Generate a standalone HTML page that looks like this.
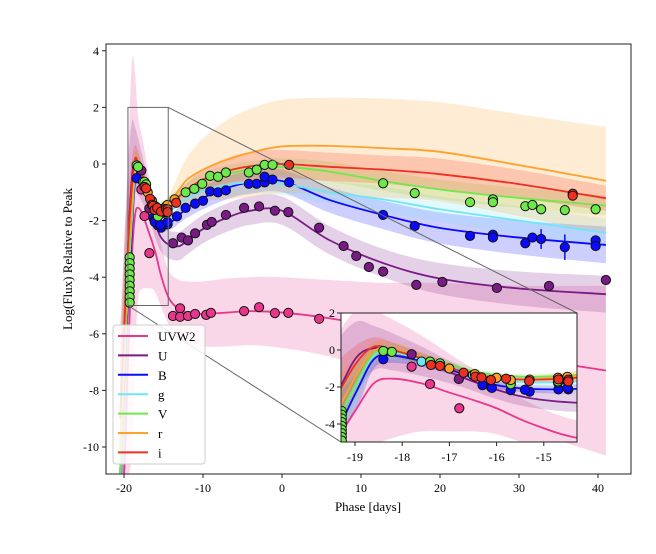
<!DOCTYPE html>
<html><head><meta charset="utf-8">
<style>
html,body{margin:0;padding:0;background:#fff;width:656px;height:554px;overflow:hidden;}
svg{display:block;font-family:"Liberation Serif",serif;}
</style></head>
<body>
<svg id="chart" width="656" height="554" viewBox="0 0 656 554" xmlns="http://www.w3.org/2000/svg">
<defs>
<clipPath id="clipMain"><rect x="106" y="44" width="525" height="430"/></clipPath>
<clipPath id="clipInset"><rect x="341" y="313" width="236" height="129"/></clipPath>
</defs>
<rect x="0" y="0" width="656" height="554" fill="#fff"/>
<g id="mainBands" clip-path="url(#clipMain)"></g>
<g id="zoomBox"></g>
<rect x="106" y="44" width="525" height="430" fill="none" stroke="#222" stroke-width="1"/>
<g id="mainAxes"></g>
<text x="368" y="511" font-size="13" text-anchor="middle">Phase [days]</text>
<text transform="translate(72,259) rotate(-90)" font-size="13" text-anchor="middle">Log(Flux) Relative to Peak</text>
<g id="legend"></g>
<rect x="341" y="313" width="236" height="129" fill="#fff"/>
<g id="insetPlot" clip-path="url(#clipInset)"></g>
<rect x="341" y="313" width="236" height="129" fill="none" stroke="#222" stroke-width="1"/>
<g id="insetAxes"></g>
</svg>
<script>
// ---- data ----
const bandNames = ["UVW2","U","B","g","V","r","i"];
const bandColors = ["#e8368c","#7a1a86","#0a0aff","#70e6f5","#6ee84a","#ffa12a","#ee3020"];
const knotPhases = [-20.5,-20,-19.5,-19,-18.6,-18.2,-17.6,-17,-16.5,-16,-15.3,-14.3,-13,-12,-10,-7,-4,0,6,12.8,20,30,41];
const curveUVW2 = [-14,-11,-7,-3.3,-1.8,-1.55,-1.8,-2.3,-2.7,-3.15,-3.95,-4.75,-5.15,-5.25,-5.3,-5.25,-5.2,-5.25,-5.45,-5.8,-6.2,-6.8,-7.3];
const curveU = [-11,-7,-3,-0.5,0.1,-0.1,-0.6,-1.2,-1.7,-2.15,-2.6,-2.85,-2.9,-2.7,-2.3,-1.9,-1.65,-1.65,-2.69,-3.5,-4.05,-4.4,-4.6];
const curveB = [-11,-8,-4.8,-2.4,-0.5,-0.3,-0.6,-1.05,-1.5,-1.9,-2.1,-2.1,-1.8,-1.55,-1.2,-0.85,-0.65,-0.6,-1.27,-1.8,-2.26,-2.6,-2.86];
const curveG = [-11,-7.5,-4.3,-2.0,-0.3,-0.15,-0.5,-0.9,-1.3,-1.6,-1.75,-1.7,-1.4,-1.2,-0.95,-0.75,-0.65,-0.7,-1.0,-1.25,-1.6,-2.0,-2.43];
const curveV = [-11,-7.5,-4.3,-1.9,-0.2,-0.05,-0.45,-0.8,-1.15,-1.35,-1.45,-1.35,-1.1,-0.9,-0.6,-0.35,-0.2,-0.1,-0.27,-0.6,-0.9,-1.2,-1.47];
const curveR = [-10,-7,-3.8,-1.5,-0.05,0.05,-0.4,-0.95,-1.3,-1.5,-1.6,-1.4,-0.9,-0.55,-0.2,0.15,0.4,0.62,0.64,0.56,0.43,-0.04,-0.59];
const curveI = [-9,-6,-3,-0.8,0.18,0.0,-0.45,-0.95,-1.3,-1.5,-1.6,-1.5,-1.15,-0.9,-0.55,-0.25,-0.08,0,-0.1,-0.2,-0.36,-0.71,-1.21];
const sigUVW2 = [6,6.5,7,6.9,5,3.2,2.6,2.1,1.7,1.4,1.1,0.95,1.05,1.1,1.15,1.2,1.2,1.25,1.35,1.6,2,2.5,3];
const sigU = [4,4,3,2,1.2,1,0.8,0.6,0.5,0.5,0.5,0.5,0.5,0.5,0.5,0.5,0.5,0.5,0.5,0.5,0.55,0.6,0.65];
const sigB = [3,3,2,1,0.5,0.4,0.3,0.25,0.2,0.2,0.2,0.25,0.3,0.35,0.4,0.4,0.4,0.4,0.45,0.5,0.55,0.6,0.65];
const sigG = [3,3,2,1,0.5,0.4,0.3,0.25,0.2,0.2,0.2,0.25,0.3,0.35,0.4,0.4,0.4,0.4,0.4,0.45,0.45,0.5,0.5];
const sigV = [3,3,2,1,0.5,0.4,0.3,0.25,0.2,0.15,0.15,0.2,0.25,0.25,0.3,0.3,0.3,0.3,0.35,0.35,0.35,0.35,0.35];
const sigR = [3,3,2,1,0.5,0.4,0.3,0.25,0.2,0.2,0.2,0.3,0.6,0.8,1.1,1.4,1.55,1.65,1.7,1.75,1.75,1.8,1.9];
const sigI = [3,3,2,1,0.5,0.4,0.3,0.25,0.2,0.15,0.15,0.15,0.2,0.25,0.35,0.45,0.5,0.5,0.5,0.5,0.55,0.5,0.45];
const ptsUVW2 = [[-17.8,-0.9],[-17.41,-1.84],[-16.79,-3.15],[-13.8,-5.37],[-12.9,-5.1],[-12.9,-5.4],[-11.9,-5.37],[-11,-5.3],[-9.6,-5.33],[-9,-5.26],[-4.8,-5.2],[-2.9,-5.06],[-0.9,-5.27],[0.8,-5.26],[4.7,-5.47]];
const ptsU = [[-17.8,-0.23],[-16.8,-1.57],[-13.8,-2.8],[-12.7,-2.6],[-11.9,-2.7],[-11,-2.45],[-9.5,-2.15],[-8.9,-2.05],[-7.1,-1.8],[-4.8,-1.55],[-2.9,-1.5],[-0.9,-1.65],[0.8,-1.7],[4.7,-2.25],[7.8,-2.9],[9.4,-3.25],[11,-3.64],[12.8,-3.8],[17,-4.27],[20.3,-4.17],[27.2,-4.38],[33.8,-4.31],[41,-4.1]];
const ptsB = [[-18.4,-0.5],[-16.3,-1.9],[-16.12,-2.0],[-15.7,-2.17],[-15.3,-2.25],[-14.69,-2.13],[-14.48,-2.13],[-16.1,-2.05],[-15.4,-2.15],[-14.5,-2.05],[-13.3,-1.85],[-12.2,-1.55],[-11,-1.4],[-10,-1.3],[-9.1,-0.97],[-8.1,-1.0],[-7.1,-0.93],[-4.2,-0.7],[-3.2,-0.7],[-2.2,-0.65],[-2.2,-0.45],[-1.2,-0.55],[0.9,-0.65],[12.8,-1.8],[16.8,-2.19],[23.8,-2.54],[26.7,-2.5],[26.7,-2.6],[30.8,-2.8],[31.7,-2.6],[32.8,-2.65],[35.8,-2.94],[39.7,-2.7],[39.7,-2.9]];
const errB = [0,0,0,0,0,0,0,0,0,0,0,0,0,0,0,0,0,0,0,0,0,0,0,0,0,0,0,0,0,0,0.35,0.45,0,0];
const ptsG = [[-17.59,-0.63],[-16.5,-1.35],[-15.7,-1.8],[-14.7,-1.75],[-14.5,-1.7]];
const ptsV = [[-19.28,-3.3],[-19.28,-3.5],[-19.28,-3.7],[-19.28,-3.9],[-19.28,-4.1],[-19.28,-4.3],[-19.28,-4.5],[-19.28,-4.7],[-19.28,-4.9],[-18.4,-0.05],[-18.22,-0.1],[-17.41,-0.63],[-17.2,-0.72],[-15.7,-1.85],[-14.7,-1.7],[-12.2,-1.0],[-11.1,-0.88],[-10.1,-0.7],[-9.1,-0.42],[-8.1,-0.45],[-7.1,-0.3],[-4.2,-0.3],[-3.2,-0.2],[-2.2,-0.03],[-1.2,-0.03],[12.8,-0.68],[16.8,-1.03],[23.8,-1.35],[26.7,-1.25],[26.7,-1.35],[30.8,-1.49],[31.7,-1.45],[32.8,-1.6],[35.8,-1.63],[39.7,-1.6]];
const ptsR = [[-17.0,-1.0],[-16.46,-1.3],[-16.0,-1.5],[-15.7,-1.62],[-15.3,-1.6],[-14.7,-1.5],[-14.5,-1.45],[-13.6,-1.25]];
const ptsI = [[-17.39,-0.81],[-17.2,-0.86],[-16.7,-1.23],[-16.45,-1.44],[-16.32,-1.48],[-16.12,-1.62],[-15.8,-1.55],[-15.31,-1.68],[-14.69,-1.59],[-14.48,-1.6],[-14.48,-1.7],[-13.4,-1.37],[0.9,-0.03],[36.8,-1.05],[36.8,-1.12]];
const mainXTicks = [-20,-10,0,10,20,30,40];
const mainYTicks = [4,2,0,-2,-4,-6,-8,-10];
const insetXTicks = [-19,-18,-17,-16,-15];
const insetYTicks = [2,0,-2,-4];

const curves = [curveUVW2,curveU,curveB,curveG,curveV,curveR,curveI];
const sigmas = [sigUVW2,sigU,sigB,sigG,sigV,sigR,sigI];
const points = [ptsUVW2,ptsU,ptsB,ptsG,ptsV,ptsR,ptsI];

// ---- scales ----
const xM = p => 282 + 7.9*p;
const yM = v => 164 - 28.3*v;
const xI = p => 355 + 47.2*(p+19);
const yI = v => 350 - 18.5*v;
const NS = "http://www.w3.org/2000/svg";
function mk(tag, attrs, parent){const e=document.createElementNS(NS,tag);for(const k in attrs)e.setAttribute(k,attrs[k]);if(parent)parent.appendChild(e);return e;}
function spline(pts){
  let d="M"+pts[0][0].toFixed(2)+","+pts[0][1].toFixed(2);
  for(let i=0;i<pts.length-1;i++){
    const p0=pts[Math.max(0,i-1)],p1=pts[i],p2=pts[i+1],p3=pts[Math.min(pts.length-1,i+2)];
    const c1=[p1[0]+(p2[0]-p0[0])/6,p1[1]+(p2[1]-p0[1])/6];
    const c2=[p2[0]-(p3[0]-p1[0])/6,p2[1]-(p3[1]-p1[1])/6];
    d+="C"+c1[0].toFixed(2)+","+c1[1].toFixed(2)+" "+c2[0].toFixed(2)+","+c2[1].toFixed(2)+" "+p2[0].toFixed(2)+","+p2[1].toFixed(2);
  }
  return d;
}
function splineCont(pts){ return spline(pts).replace(/^M/,"L"); }

function drawPanel(g, X, Yraw, r, yLo, yHi){
  const Y = v => Math.max(yLo, Math.min(yHi, Yraw(v)));
  curves.forEach((c,b)=>{
    const up=knotPhases.map((p,i)=>[X(p),Y(c[i]+sigmas[b][i])]);
    const lo=knotPhases.map((p,i)=>[X(p),Y(c[i]-sigmas[b][i])]).reverse();
    const band=mk("path",{d:spline(up)+splineCont(lo)+"Z",fill:bandColors[b],"fill-opacity":"0.2",stroke:"none"},g);
    
    
  });
  curves.forEach((c,b)=>{
    const ln=mk("path",{d:spline(knotPhases.map((p,i)=>[X(p),Y(c[i])])),fill:"none",stroke:bandColors[b],"stroke-width":"1.8"},g);
    
    
  });
  points.forEach((arr,b)=>{
    arr.forEach((pt,k)=>{
      if(b===2 && errB[k]>0){
        const eb=mk("line",{x1:X(pt[0]),x2:X(pt[0]),y1:Y(pt[1]+errB[k]),y2:Y(pt[1]-errB[k]),stroke:bandColors[b],"stroke-width":"1.5"},g);
        
        
      }
      const c=mk("circle",{cx:X(pt[0]),cy:Y(pt[1]),r:r,fill:bandColors[b],stroke:"#111","stroke-width":"1"},g);
      
      
    });
  });
}
drawPanel(document.getElementById("mainBands"), xM, yM, 4.6, 42, 476);
drawPanel(document.getElementById("insetPlot"), xI, yI, 4.6, 311, 444);

// zoom indicator
const zb=document.getElementById("zoomBox");
const rx0=xM(-19.5), rx1=xM(-14.4), ry0=yM(2), ry1=yM(-5);
mk("rect",{x:rx0,y:ry0,width:rx1-rx0,height:ry1-ry0,fill:"none",stroke:"#666","stroke-width":"1"},zb);
mk("line",{x1:rx1,y1:ry0,x2:577,y2:313,stroke:"#666","stroke-width":"1"},zb);
mk("line",{x1:rx0,y1:ry1,x2:341,y2:442,stroke:"#666","stroke-width":"1"},zb);

// main axes
const ma=document.getElementById("mainAxes");
mainXTicks.forEach(t=>{
  mk("line",{x1:xM(t),x2:xM(t),y1:474,y2:478,stroke:"#222"},ma);
  const tx=mk("text",{x:xM(t),y:492,"font-size":"12","text-anchor":"middle"},ma);tx.textContent=t;
  
  
});
mainYTicks.forEach(t=>{
  mk("line",{x1:102,x2:106,y1:yM(t),y2:yM(t),stroke:"#222"},ma);
  const tx=mk("text",{x:99,y:yM(t)+4,"font-size":"12","text-anchor":"end"},ma);tx.textContent=t;
  
  
});
// inset axes
const ia=document.getElementById("insetAxes");
insetXTicks.forEach(t=>{
  mk("line",{x1:xI(t),x2:xI(t),y1:442,y2:446,stroke:"#222"},ia);
  const tx=mk("text",{x:xI(t),y:461,"font-size":"12","text-anchor":"middle"},ia);tx.textContent=t;
  
  
});
insetYTicks.forEach(t=>{
  mk("line",{x1:337,x2:341,y1:yI(t),y2:yI(t),stroke:"#222"},ia);
  const tx=mk("text",{x:335,y:yI(t)+4,"font-size":"12","text-anchor":"end"},ia);tx.textContent=t;
  
  
});
// legend
const lg=document.getElementById("legend");
mk("rect",{x:113,y:325,width:92,height:139,rx:3,fill:"#fff","fill-opacity":"0.85",stroke:"#ccc","stroke-width":"1"},lg);
bandNames.forEach((n,i)=>{
  const y=336+i*19.4;
  const ent=mk("g",{},lg);
  
  
  mk("line",{x1:118,x2:148,y1:y,y2:y,stroke:bandColors[i],"stroke-width":"2"},ent);
  const tx=mk("text",{x:158,y:y+5,"font-size":"13"},ent);tx.textContent=n;
});
</script>
</body></html>
